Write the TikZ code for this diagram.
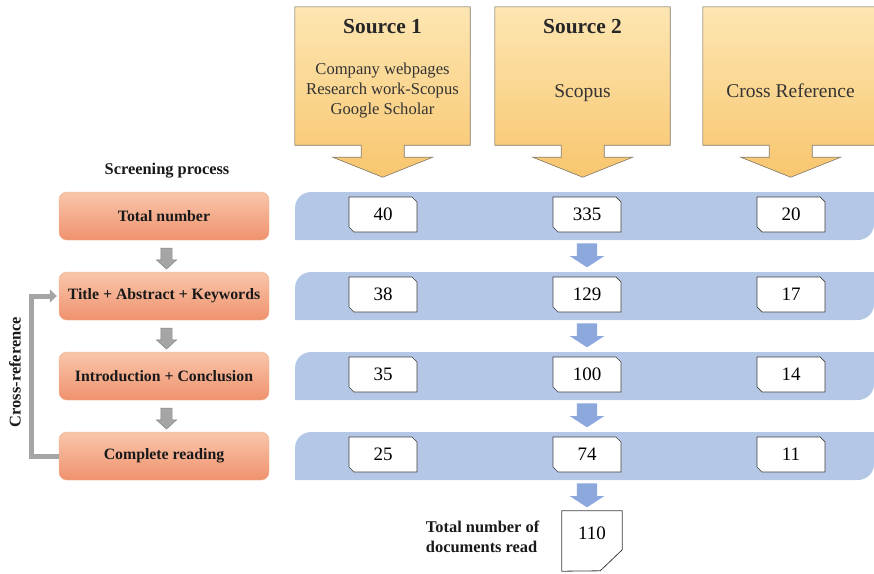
\documentclass[tikz,border=0pt]{standalone}
\usepackage{fontspec}
\setmainfont{Liberation Serif}
\usetikzlibrary{positioning,shapes.arrows,arrows.meta}

\definecolor{srclight}{RGB}{253,230,178}
\definecolor{srcdark}{RGB}{248,198,110}
\definecolor{srcline}{RGB}{140,130,110}
\definecolor{bandblue}{RGB}{180,199,231}
\definecolor{arrowblue}{RGB}{140,168,220}
\definecolor{steplight}{RGB}{248,198,170}
\definecolor{stepdark}{RGB}{240,146,110}
\definecolor{stepline}{RGB}{238,172,140}
\definecolor{arrowgray}{RGB}{165,165,165}

% card with snipped top-right and bottom-left corners: name, x, y, number
\newcommand{\countcard}[4]{%
	\filldraw[draw=black!75, line width=0.7pt, fill=white] (#2-34,#3-17.5) -- (#2+29,#3-17.5) -- (#2+34,#3-12.5) -- (#2+34,#3+17.5) -- (#2-29,#3+17.5) -- (#2-34,#3+12.5) -- cycle;
	\node[countnum] (#1) at (#2,#3) {#4};}

\begin{document}
\begin{tikzpicture}[x=1pt, y=-1pt, node distance=10pt]
	\useasboundingbox (0,0) rectangle (874,573);
	% Define styles
	\tikzstyle{srcbox} = [rectangle, minimum width=175pt, minimum height=138pt, inner sep=0pt]
	\tikzstyle{srcshape} = [draw=srcline, line width=0.6pt, top color=srclight, bottom color=srcdark]
	\tikzstyle{srctitle} = [font=\fontsize{21.4}{24}\selectfont\bfseries, text=black!85]
	\tikzstyle{srctext} = [font=\fontsize{16.6}{20}\selectfont, align=center, text=black!80]
	\tikzstyle{srcbig} = [font=\fontsize{19.5}{22}\selectfont, text=black!80]
	\tikzstyle{band} = [fill=bandblue]
	\tikzstyle{stepbox} = [rectangle, rounded corners=8pt, draw=stepline, top color=steplight, bottom color=stepdark, minimum width=210pt, minimum height=48pt, font=\fontsize{15.8}{18}\selectfont\bfseries, text=black!90]
	\tikzstyle{countnum} = [rectangle, inner sep=0pt, font=\fontsize{19}{22}\selectfont]
	\tikzstyle{bluearrow} = [single arrow, shape border rotate=270, fill=arrowblue, minimum height=24pt, minimum width=34pt, single arrow head extend=7pt, single arrow tip angle=114, inner xsep=10pt, inner ysep=0pt]
	\tikzstyle{grayarrow} = [single arrow, shape border rotate=270, fill=arrowgray, draw=black!50, line width=0.4pt, minimum height=21pt, minimum width=20pt, single arrow head extend=4.5pt, single arrow tip angle=96, inner xsep=5.5pt, inner ysep=0pt]
	\tikzstyle{boldlabel} = [font=\fontsize{16.4}{20}\selectfont\bfseries, text=black!90]
	
	% Sources
	\node[srcbox] (src1) at (382.5,76) {};
	\node[srcbox] (src2) at (582.5,76) {};
	\node[srcbox] (src3) at (790.5,76) {};
	\filldraw[srcshape] (src1.north west) -- (src1.north east) -- (src1.south east) -- ++(-66,0) -- ++(0,12) -- ++(28.5,0) -- ++(-50,20) -- ++(-50,-20) -- ++(28.5,0) -- ++(0,-12) -- (src1.south west) -- cycle;
	\filldraw[srcshape] (src2.north west) -- (src2.north east) -- (src2.south east) -- ++(-66,0) -- ++(0,12) -- ++(28.5,0) -- ++(-50,20) -- ++(-50,-20) -- ++(28.5,0) -- ++(0,-12) -- (src2.south west) -- cycle;
	\filldraw[srcshape] (src3.north west) -- (src3.north east) -- (src3.south east) -- ++(-66,0) -- ++(0,12) -- ++(28.5,0) -- ++(-50,20) -- ++(-50,-20) -- ++(28.5,0) -- ++(0,-12) -- (src3.south west) -- cycle;
	\node[srctitle] (src1title) at (382.5,27) {Source 1};
	\node[srctitle] (src2title) at (582.5,27) {Source 2};
	\node[srctext] (src1list) at (382.5,91) {Company webpages\\Research work-Scopus\\Google Scholar};
	\node[srcbig] (src2list) at (582.5,93) {Scopus};
	\node[srcbig] (src3list) at (790.5,91) {Cross Reference};
	
	% Bands
	\fill[band] (295,240) -- (295,208) arc[start angle=180, end angle=270, radius=16] -- (874,192) -- (874,224) arc[start angle=0, end angle=90, radius=16] -- cycle;
	\fill[band] (295,320) -- (295,288) arc[start angle=180, end angle=270, radius=16] -- (874,272) -- (874,304) arc[start angle=0, end angle=90, radius=16] -- cycle;
	\fill[band] (295,400) -- (295,368) arc[start angle=180, end angle=270, radius=16] -- (874,352) -- (874,384) arc[start angle=0, end angle=90, radius=16] -- cycle;
	\fill[band] (295,480) -- (295,448) arc[start angle=180, end angle=270, radius=16] -- (874,432) -- (874,464) arc[start angle=0, end angle=90, radius=16] -- cycle;
	
	% Screening steps
	\node[boldlabel] (screening) at (167,171) {Screening process};
	\node[stepbox] (total) at (164,216) {Total number};
	\node[stepbox] (title) at (164,296) {Title + Abstract + Keywords};
	\node[stepbox] (intro) at (164,376) {Introduction + Conclusion};
	\node[stepbox] (reading) at (164,456) {Complete reading};
	\node[grayarrow] (down1) at (166.5,256) {};
	\node[grayarrow] (down2) at (166.5,336) {};
	\node[grayarrow] (down3) at (166.5,416) {};
	
	% Cross-reference loop
	\draw[line width=5pt, arrowgray, -{Triangle[length=7pt, width=13pt]}] (reading.west) -- ++(-27,0) |- ([xshift=-2pt]title.west);
	\node[boldlabel, rotate=90] (xreflabel) at (15,372) {Cross-reference};
	
	% Counts
	\countcard{tot1}{383}{214.5}{40}
	\countcard{tot2}{587}{214.5}{335}
	\countcard{tot3}{791}{214.5}{20}
	\countcard{tak1}{383}{294.5}{38}
	\countcard{tak2}{587}{294.5}{129}
	\countcard{tak3}{791}{294.5}{17}
	\countcard{ic1}{383}{374.5}{35}
	\countcard{ic2}{587}{374.5}{100}
	\countcard{ic3}{791}{374.5}{14}
	\countcard{cr1}{383}{454.5}{25}
	\countcard{cr2}{587}{454.5}{74}
	\countcard{cr3}{791}{454.5}{11}
	\node[bluearrow] (flow1) at (587,252) {};
	\node[bluearrow] (flow2) at (587,332) {};
	\node[bluearrow] (flow3) at (587,412) {};
	\node[bluearrow] (flow4) at (587,492) {};
	
	% Documents read
	\node[rectangle, minimum width=60pt, minimum height=60pt, inner sep=0pt] (docs) at (592,541) {};
	\draw[black!75, line width=0.8pt, fill=white] (docs.north west) -- (docs.north east) -- ++(0,39) -- ++(-22,21) -- (docs.south west) -- cycle;
	\filldraw[black!75, line width=0.6pt, fill=black!25] ([yshift=-9pt]docs.south east) -- ++(-22,21) -- ++(4,-17) -- cycle;
	\node[font=\fontsize{19}{22}\selectfont] (docsnum) at (592,533) {110};
	\node[boldlabel, align=left, left=19pt of docs, yshift=4pt] (docslabel) {Total number of\\documents read};
\end{tikzpicture}
\end{document}
